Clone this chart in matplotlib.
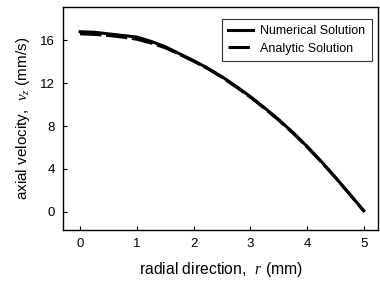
import matplotlib
matplotlib.use("Agg")
import matplotlib.pyplot as plt

r = [0, 0.25, 0.5, 0.75, 1, 1.25, 1.5, 1.75, 2, 2.25, 2.5, 2.75, 3, 3.25, 3.5, 3.75, 4, 4.25, 4.5, 4.75, 5]
numerical = [16.8, 16.75, 16.6, 16.45, 16.3, 15.9, 15.4, 14.75, 14.1, 13.4, 12.6, 11.7, 10.75, 9.7, 8.6, 7.4, 6.1, 4.7, 3.2, 1.65, 0.1]
analytic = [16.6, 16.55, 16.45, 16.3, 16.1, 15.75, 15.3, 14.7, 14.05, 13.35, 12.55, 11.65, 10.7, 9.65, 8.55, 7.35, 6.05, 4.65, 3.2, 1.65, 0.05]
xticks = [0, 1, 2, 3, 4, 5]
yticks = [0, 4, 8, 12, 16]

plt.rcParams['font.family'] = ['Liberation Sans', 'DejaVu Sans']
plt.rcParams['mathtext.fontset'] = 'custom'
plt.rcParams['mathtext.it'] = 'Liberation Serif:italic'

fig = plt.figure(figsize=(3.8, 2.82), dpi=100)
ax = fig.add_axes([0.166, 0.184, 0.829, 0.791])
ax.plot(r, numerical, color='black', lw=2.2, label='Numerical Solution')
ax.plot(r, analytic, color='black', lw=2.2, dashes=(7, 1.5), label='Analytic Solution')
ax.set_xlim(-0.3, 5.25)
ax.set_ylim(-1.7, 19.1)
ax.set_xticks(xticks)
ax.set_yticks(yticks)
ax.tick_params(direction='in', length=3, width=0.8, labelsize=9.5, pad=6)
for s in ax.spines.values():
    s.set_linewidth(1.0)
ax.set_xlabel('radial direction,  $r$ (mm)', fontsize=11.3, labelpad=7)
ax.set_ylabel('axial velocity,  $v_z$ (mm/s)', fontsize=11, labelpad=6)
leg = ax.legend(loc='upper right', fontsize=9.0, frameon=True, fancybox=False,
                edgecolor='black', handlelength=2.0, borderpad=0.5, labelspacing=0.45,
                handletextpad=0.6, bbox_to_anchor=(1.0, 0.975))
leg.get_frame().set_linewidth(0.8)
fig.savefig('out.png', dpi=100)
